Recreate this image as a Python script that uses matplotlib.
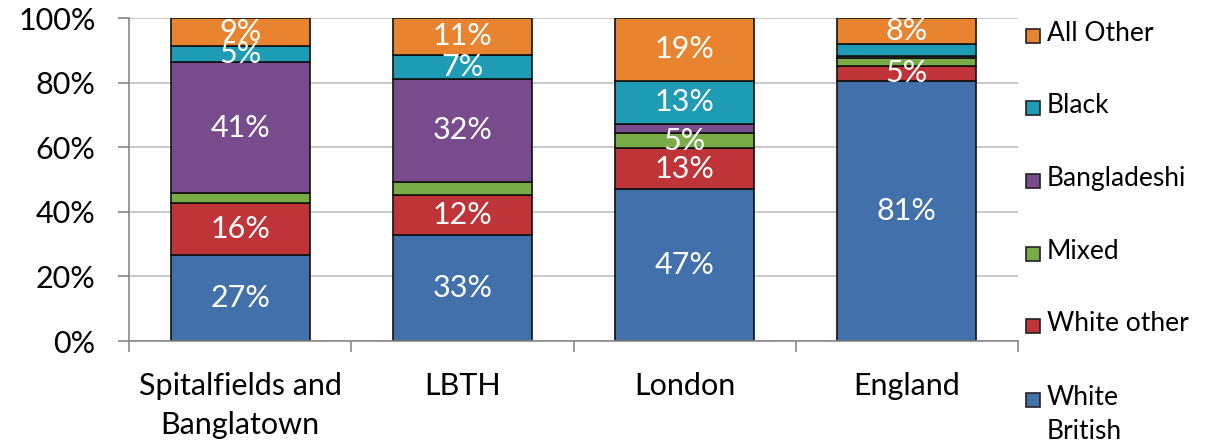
import matplotlib.pyplot as plt
import numpy as np
from matplotlib.patches import Rectangle

# data (percent)
areas = ['Spitalfields and\nBanglatown', 'LBTH', 'London', 'England']
groups = ['White\nBritish', 'White other', 'Mixed', 'Bangladeshi', 'Black', 'All Other']
white_british = [26.6, 32.9, 47.0, 80.6]
white_other = [16.2, 12.3, 12.7, 4.6]
mixed = [2.9, 4.0, 4.7, 2.3]
bangladeshi = [40.6, 32.0, 2.8, 0.8]
black = [5.1, 7.4, 13.4, 3.5]
all_other = [8.6, 11.4, 19.4, 8.2]

series = [white_british, white_other, mixed, bangladeshi, black, all_other]
colors = ['#4170aa', '#be3438', '#79ab46', '#774b8c', '#1f9cb5', '#e8832f']

plt.rcParams['font.family'] = ['Lato', 'DejaVu Sans']

fig = plt.figure(figsize=(12.06, 4.48), dpi=100)
ax = fig.add_axes([129 / 1206, 1 - 341 / 448, 889 / 1206, 323 / 448])

x = np.arange(len(areas))
bottom = np.zeros(len(areas))
for vals, col in zip(series, colors):
    vals = np.array(vals)
    ax.bar(x, vals, 0.625, bottom=bottom, color=col, edgecolor='#111111',
           linewidth=1.2, zorder=2)
    for xi, b, v in zip(x, bottom, vals):
        if round(v) >= 5:
            ax.text(xi, b + v / 2, f'{v:.0f}%', ha='center', va='center',
                    color='white', fontsize=22, zorder=3)
    bottom += vals

ax.set_xlim(-0.5, 3.5)
ax.set_ylim(0, 100)
ax.set_yticks(range(0, 101, 20))
ax.set_yticklabels([f'{t}%' for t in range(0, 101, 20)], fontsize=22)
ax.yaxis.grid(True, color='#c0c0c0', linewidth=1.2, zorder=0)
ax.set_axisbelow(True)

ax.set_xticks(np.arange(-0.5, 3.6, 1))
ax.set_xticklabels([])
ax.set_xticks(x, minor=True)
ax.set_xticklabels(areas, minor=True, fontsize=22, linespacing=1.5)
ax.tick_params(axis='x', which='minor', length=0, pad=22)
ax.tick_params(axis='x', which='major', length=8, width=1.2, color='#888888')
ax.tick_params(axis='y', length=8, width=1.2, color='#888888', pad=16)

for s in ['top', 'right']:
    ax.spines[s].set_visible(False)
for s in ['left', 'bottom']:
    ax.spines[s].set_color('#888888')
    ax.spines[s].set_linewidth(1.2)

# legend drawn by hand, top entry first
ys = [36, 108, 181, 254, 326, 400]
for i, (name, col) in enumerate(zip(groups[::-1], colors[::-1])):
    yc = 1 - ys[i] / 448
    fig.patches.append(Rectangle((1026 / 1206, yc - 7 / 448), 14 / 1206, 14 / 448,
                                 transform=fig.transFigure, facecolor=col,
                                 edgecolor='#222222', linewidth=1.2))
    fig.text(1047 / 1206, yc + 15 / 448, name, ha='left', va='top',
             fontsize=19, linespacing=1.45)

fig.savefig('out.png', dpi=100)
